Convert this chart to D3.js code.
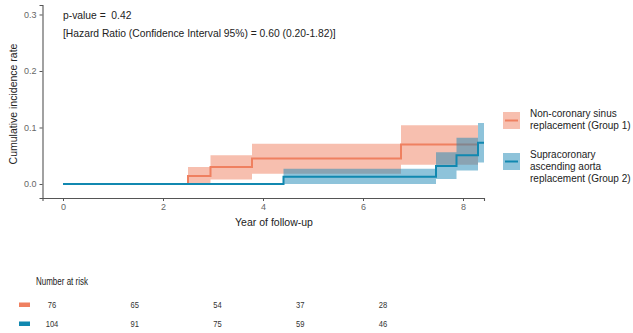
<!DOCTYPE html>
<html>
<head>
<meta charset="utf-8">
<script src="https://cdn.jsdelivr.net/npm/d3@7"></script>
<style>
  body { margin: 0; background: #fff; }
  text { font-family: "Liberation Sans", Arial, sans-serif; }
</style>
</head>
<body>
<svg id="chart"></svg>
<script>
const width = 633;
const height = 333;

// group 1: non-coronary sinus replacement
const g1Time = [0, 2.5, 2.95, 3.78, 6.76, 8.3];
const g1Est  = [0, 0.014, 0.030, 0.045, 0.070, 0.070];
const g1Low  = [0, 0, 0.008, 0.018, 0.034, 0.034];
const g1Up   = [0, 0.030, 0.051, 0.071, 0.104, 0.104];

// group 2: supracoronary ascending aorta replacement
const g2Time = [0, 4.41, 7.46, 7.87, 8.3, 8.42];
const g2Est  = [0, 0.013, 0.032, 0.051, 0.073, 0.073];
const g2Low  = [0, 0, 0.009, 0.024, 0.038, 0.038];
const g2Up   = [0, 0.027, 0.056, 0.082, 0.108, 0.108];

const xTicks = [0, 2, 4, 6, 8];
const yTicks = [0, 0.1, 0.2, 0.3];
const riskTimes = [0, 2, 4, 6, 8];
const riskG1 = [76, 65, 54, 37, 28];
const riskG2 = [104, 91, 75, 59, 46];
const groupNames = [
  ['Non-coronary sinus', 'replacement (Group 1)'],
  ['Supracoronary', 'ascending aorta', 'replacement (Group 2)']
];

const orange = '#EF8060';
const blue = '#1188B0';

const svg = d3.select('#chart').attr('width', width).attr('height', height);

const x = d3.scaleLinear().domain([-0.41, 8.42]).range([42.5, 484]);
const y = d3.scaleLinear().domain([-0.0248, 0.3168]).range([198, 5]);

// axes
const xAxis = svg.append('g').attr('transform', 'translate(0,198)')
  .call(d3.axisBottom(x).tickValues(xTicks).tickSize(3).tickPadding(3).tickFormat(d3.format('d')));
const yAxis = svg.append('g').attr('transform', 'translate(42.5,0)')
  .call(d3.axisLeft(y).tickValues(yTicks).tickSize(3).tickPadding(3).tickFormat(d3.format('.1f')));
[xAxis, yAxis].forEach(a => {
  a.select('.domain').attr('stroke', '#555').attr('stroke-width', 1.1);
  a.selectAll('.tick line').attr('stroke', '#555');
  a.selectAll('.tick text').attr('fill', '#666').style('font-size', '9px')
    .style('font-family', '"Liberation Sans", Arial, sans-serif');
});

function series(t, e, lo, up) {
  return t.map((d, i) => ({t: d, e: e[i], lo: lo[i], up: up[i]}));
}
const s1 = series(g1Time, g1Est, g1Low, g1Up);
const s2 = series(g2Time, g2Est, g2Low, g2Up);

const area = d3.area().curve(d3.curveStepAfter)
  .x(d => x(d.t)).y0(d => y(d.lo)).y1(d => y(d.up));
const line = d3.line().curve(d3.curveStepAfter)
  .x(d => x(d.t)).y(d => y(d.e));

svg.append('path').datum(s1).attr('d', area).attr('fill', orange).attr('fill-opacity', 0.5);
svg.append('path').datum(s1).attr('d', line).attr('fill', 'none').attr('stroke', orange).attr('stroke-width', 2);
svg.append('path').datum(s2).attr('d', area).attr('fill', '#1E88B5').attr('fill-opacity', 0.5);
svg.append('path').datum(s2).attr('d', line).attr('fill', 'none').attr('stroke', blue).attr('stroke-width', 2);

// annotations
svg.append('text').attr('x', 63).attr('y', 19).style('font-size', '10.3px').attr('fill', '#222')
  .attr('xml:space', 'preserve').text('p-value =  0.42');
svg.append('text').attr('x', 63).attr('y', 37).style('font-size', '10.3px').attr('fill', '#222')
  .text('[Hazard Ratio (Confidence Interval 95%) = 0.60 (0.20-1.82)]');

// axis titles
svg.append('text').attr('x', 274).attr('y', 226).attr('text-anchor', 'middle')
  .style('font-size', '10.5px').attr('fill', '#222').text('Year of follow-up');
svg.append('text').attr('transform', 'translate(17,104) rotate(-90)').attr('text-anchor', 'middle')
  .style('font-size', '10.5px').attr('fill', '#222').text('Cumulative incidence rate');

// legend
const legendY = [112, 153];
[orange, blue].forEach((c, i) => {
  const g = svg.append('g').attr('transform', `translate(503,${legendY[i]})`);
  g.append('rect').attr('width', 17).attr('height', 17)
    .attr('fill', i === 0 ? orange : '#1E88B5').attr('fill-opacity', 0.5);
  g.append('line').attr('x1', 2).attr('x2', 15).attr('y1', 8.5).attr('y2', 8.5)
    .attr('stroke', c).attr('stroke-width', 2);
  groupNames[i].forEach((t, j) => {
    g.append('text').attr('x', 27).attr('y', 5 + j * 11.8)
      .style('font-size', '10px').attr('fill', '#222').text(t);
  });
});

// number at risk table (text a bit condensed, like the source)
const xr = d3.scaleLinear().domain([0, 8]).range([52, 383]);
const squeeze = 0.8;
svg.append('text').attr('transform', `translate(36,285) scale(${squeeze},1)`)
  .style('font-size', '10px').attr('fill', '#222').text('Number at risk');
[[riskG1, orange, 304.5], [riskG2, blue, 323.5]].forEach(([vals, c, ry]) => {
  svg.append('rect').attr('x', 19).attr('y', ry - 2).attr('width', 11).attr('height', 4.5).attr('fill', c);
  svg.selectAll(null).data(vals).enter().append('text')
    .attr('transform', (d, i) => `translate(${xr(riskTimes[i])},${ry + 3.5}) scale(${squeeze},1)`)
    .attr('text-anchor', 'middle')
    .style('font-size', '9.5px').attr('fill', '#333').text(d => d);
});
</script>
</body>
</html>
